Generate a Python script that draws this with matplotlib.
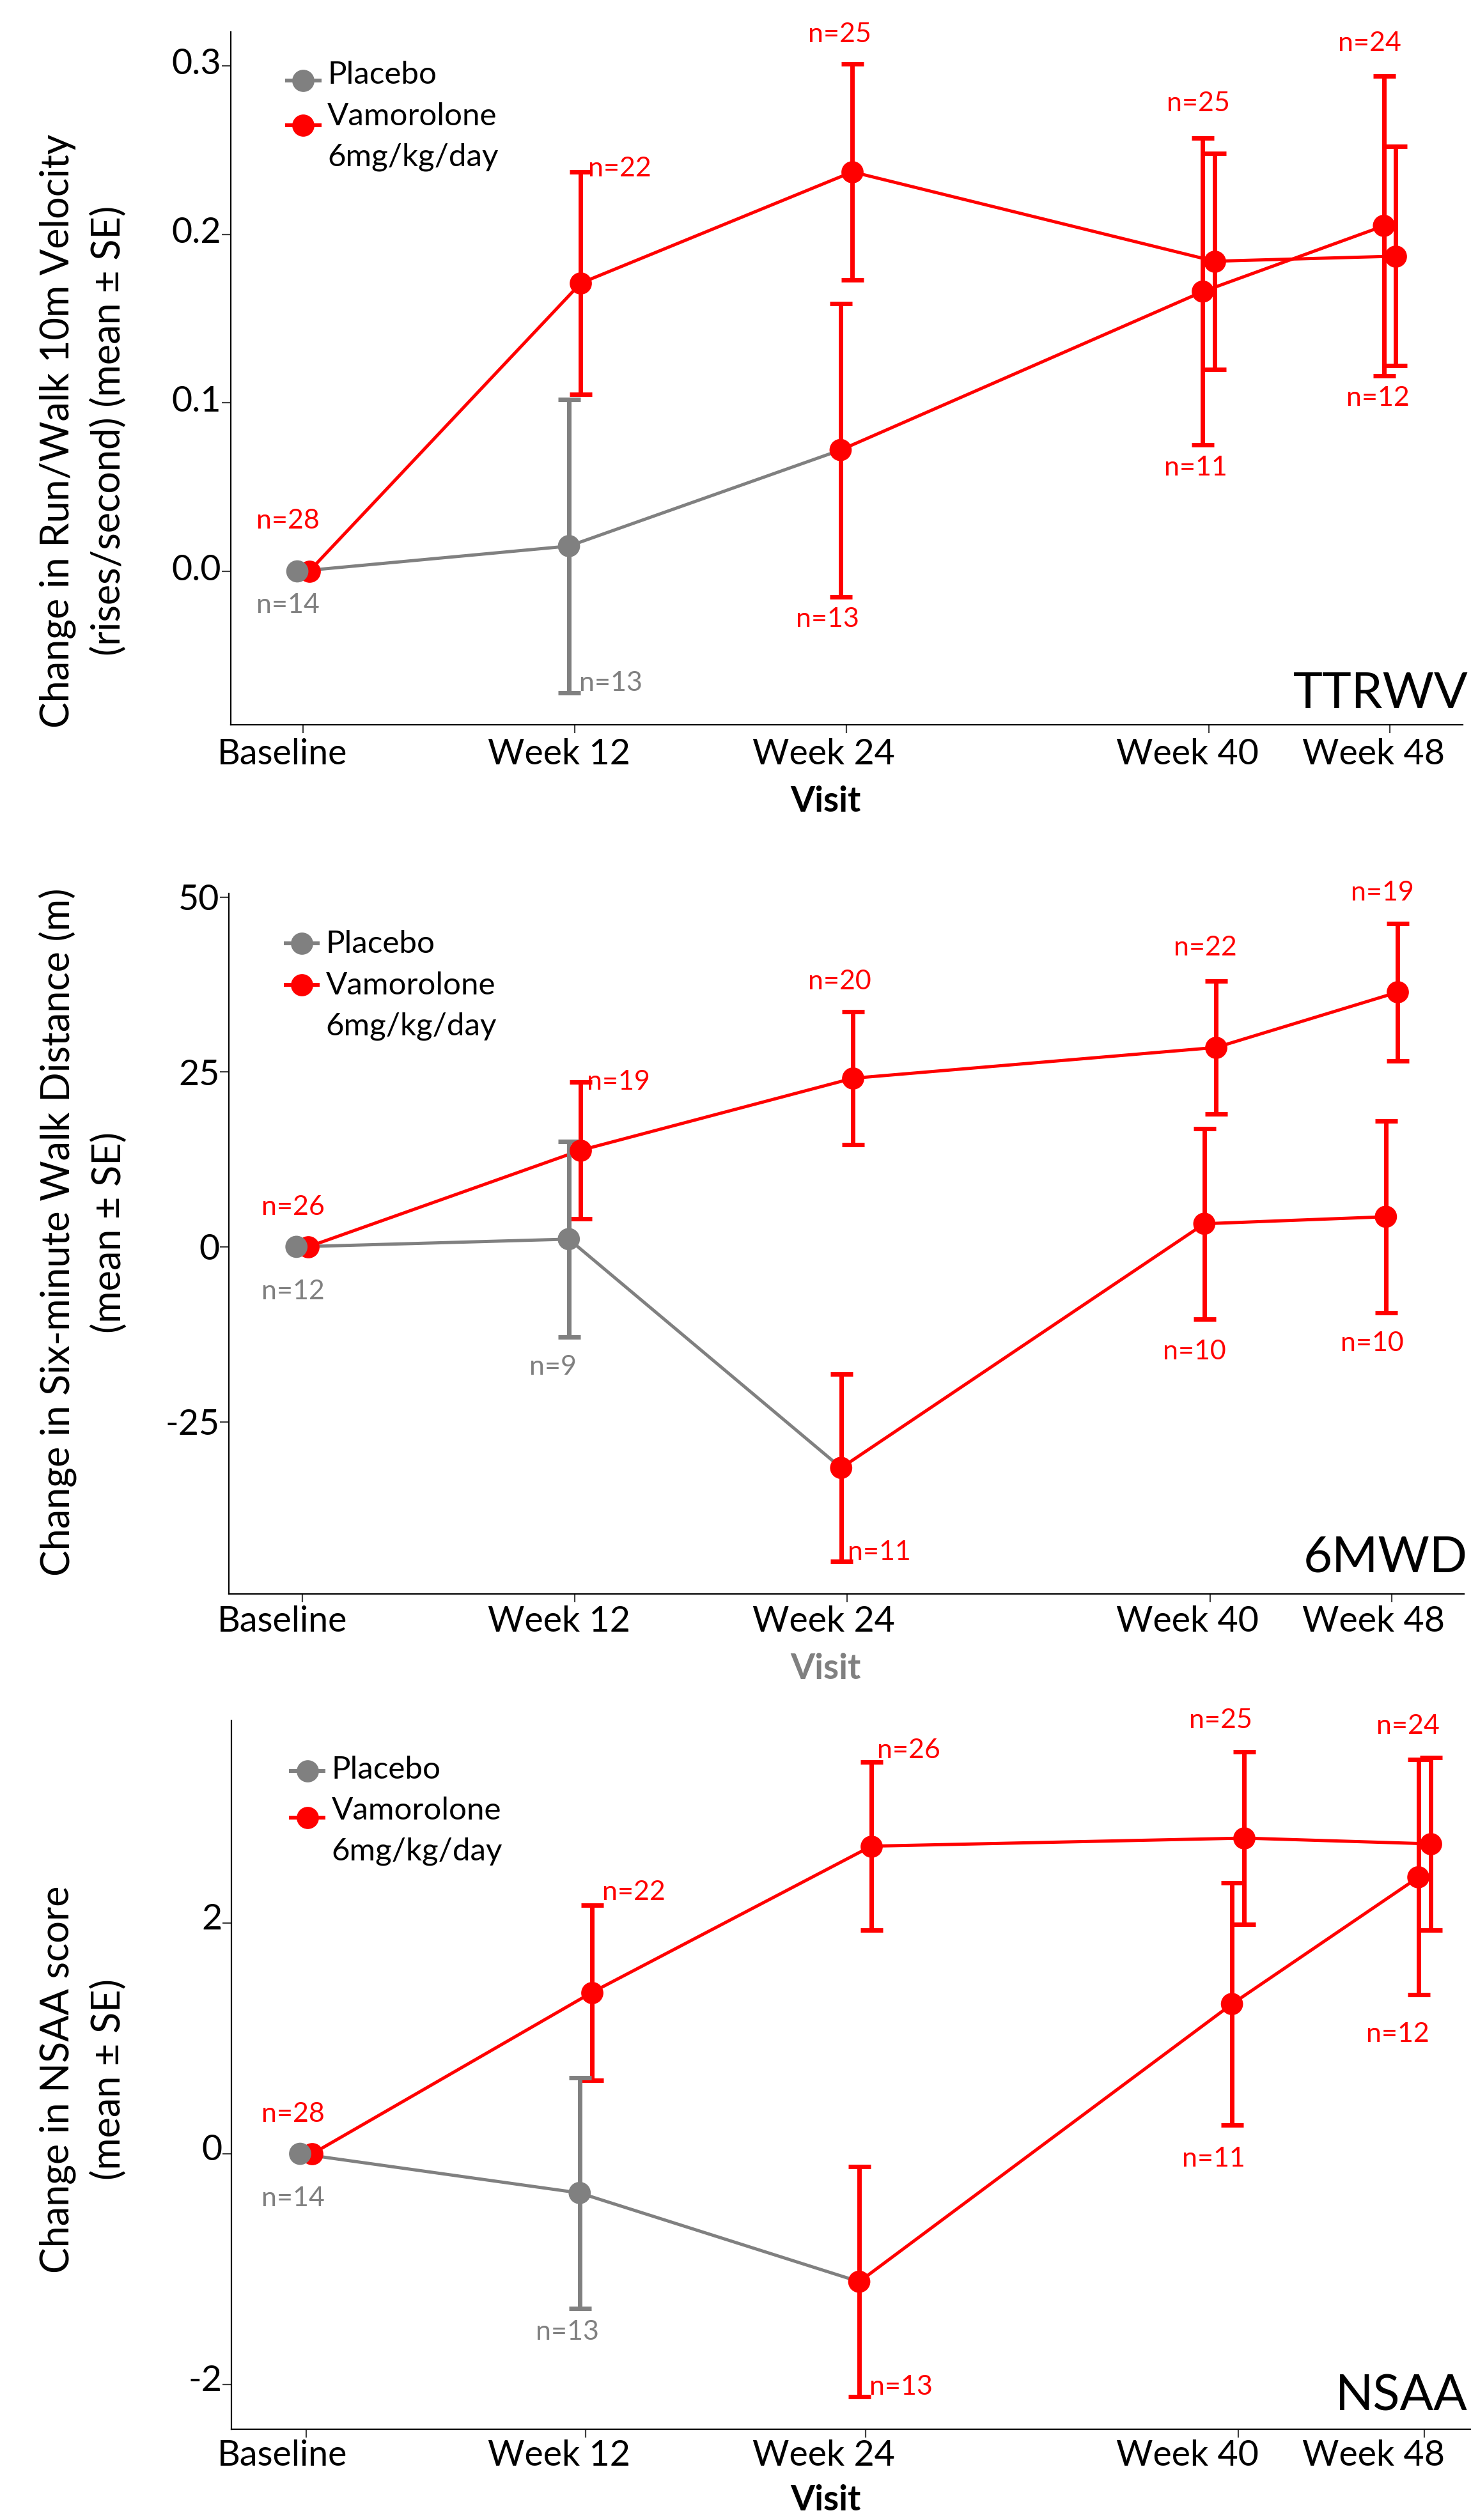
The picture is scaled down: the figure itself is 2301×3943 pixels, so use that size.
"""
Vamorolone vs placebo: change from baseline in TTRWV, 6MWD and NSAA
"""
import numpy as np
import matplotlib
matplotlib.use("Agg")
import matplotlib.pyplot as plt
import matplotlib.transforms as mtransforms
from matplotlib.lines import Line2D
from matplotlib.legend_handler import HandlerLine2D

plt.rcParams['font.family'] = ['Lato', 'DejaVu Sans']
plt.rcParams['axes.unicode_minus'] = False

GRAY = '#808080'
RED = '#ff0000'
W, H, DPI = 2301, 3943, 100

# ---------------- data ----------------
visits = ['Baseline', 'Week 12', 'Week 24', 'Week 40', 'Week 48']
weeks = [0, 12, 24, 40, 48]
# placebo arm crosses over to vamorolone after week 24
pbo_colors = [GRAY, GRAY, RED, RED, RED]

# TTRWV
ttrwv_pbo_mean = [0.0, 0.015, 0.072, 0.166, 0.205]
ttrwv_pbo_se = [0.0, 0.087, 0.087, 0.091, 0.089]
ttrwv_vam_mean = [0.0, 0.171, 0.237, 0.184, 0.187]
ttrwv_vam_se = [0.0, 0.066, 0.064, 0.064, 0.065]
ttrwv_pbo_n = [14, 13, 13, 11, 12]
ttrwv_vam_n = [28, 22, 25, 25, 24]

# 6MWD
mwd_pbo_mean = [0.0, 1.1, -31.6, 3.3, 4.3]
mwd_pbo_se = [0.0, 14.0, 13.4, 13.6, 13.7]
mwd_vam_mean = [0.0, 13.8, 24.1, 28.5, 36.4]
mwd_vam_se = [0.0, 9.75, 9.5, 9.5, 9.8]
mwd_pbo_n = [12, 9, 11, 10, 10]
mwd_vam_n = [26, 19, 20, 22, 19]

# NSAA
nsaa_pbo_mean = [0.0, -0.34, -1.11, 1.30, 2.40]
nsaa_pbo_se = [0.0, 1.0, 1.0, 1.05, 1.02]
nsaa_vam_mean = [0.0, 1.40, 2.67, 2.74, 2.69]
nsaa_vam_se = [0.0, 0.76, 0.73, 0.75, 0.75]
nsaa_pbo_n = [14, 13, 13, 11, 12]
nsaa_vam_n = [28, 22, 26, 25, 24]

# ---------------- style ----------------
DODGE = 0.26
LW = 3.6
ELW = 5.0
CAP = 12.6
MS = 25
TICKFS = 40
NFS = 31
LEGFS = 35.5
YLFS = 44
BIGFS = 56
# tick label centres (px) shared by all panels
XLAB_CX = [441.7, 874.5, 1288, 1857, 2148.6]


class ShiftedLine(HandlerLine2D):
    """legend handle moved vertically by dy points"""
    def __init__(self, dy, **kw):
        super().__init__(**kw)
        self.dy = dy

    def create_artists(self, legend, orig_handle, xdescent, ydescent,
                       width, height, fontsize, trans):
        arts = super().create_artists(legend, orig_handle, xdescent, ydescent,
                                      width, height, fontsize, trans)
        for a in arts:
            a.set_ydata(np.asarray(a.get_ydata(), float) + self.dy)
        return arts


def add_axes_px(fig, left, top, right, bottom):
    return fig.add_axes([left / W, 1 - bottom / H, (right - left) / W, (bottom - top) / H])


def draw_groups(ax, pbo_mean, pbo_se, vam_mean, vam_se):
    x = np.array(weeks, dtype=float)
    xp, xv = x - DODGE, x + DODGE
    pbo_mean, pbo_se = np.asarray(pbo_mean), np.asarray(pbo_se)
    vam_mean, vam_se = np.asarray(vam_mean), np.asarray(vam_se)

    # vamorolone arm
    ax.plot(xv, vam_mean, color=RED, lw=LW, zorder=2)
    ax.errorbar(xv[1:], vam_mean[1:], yerr=vam_se[1:], fmt='none', ecolor=RED,
                elinewidth=ELW, capsize=CAP, capthick=ELW, zorder=2)
    ax.plot(xv, vam_mean, 'o', color=RED, ms=MS, mew=0, zorder=3)

    # placebo arm -> vamorolone after week 24
    for i in range(len(weeks) - 1):
        ax.plot(xp[i:i + 2], pbo_mean[i:i + 2], color=pbo_colors[i], lw=LW, zorder=2)
    for i in range(1, len(weeks)):
        ax.errorbar(xp[i], pbo_mean[i], yerr=pbo_se[i], fmt='none', ecolor=pbo_colors[i],
                    elinewidth=ELW, capsize=CAP, capthick=ELW, zorder=2)
    ax.scatter(xp, pbo_mean, s=MS ** 2, c=pbo_colors, linewidths=0, zorder=4)


def n_labels(ax, means, ses, ns, colors, specs):
    for i, (anchor, dx, dy, ha) in enumerate(specs):
        if anchor == 'mean':
            y = means[i]
        elif anchor == 'top':
            y = means[i] + ses[i]
        else:
            y = means[i] - ses[i]
        ax.annotate(f'n={ns[i]}', xy=(weeks[i], y), xytext=(dx, dy),
                    textcoords='offset pixels', ha=ha, va='center_baseline',
                    color=colors[i], fontsize=NFS, annotation_clip=False)


def style_axes(fig, ax, xlim, ylim, yticks, yticklabels, xpad, ylab_dy):
    ax.set_xlim(*xlim)
    ax.set_ylim(*ylim)
    for s in ['top', 'right']:
        ax.spines[s].set_visible(False)
    for s in ['left', 'bottom']:
        ax.spines[s].set_linewidth(1.6)
        ax.spines[s].set_color('black')
    ax.set_xticks(weeks, visits)
    ax.set_yticks(yticks, yticklabels)
    ax.tick_params(axis='x', length=9, width=1.6, color='#404040', pad=xpad,
                   labelsize=TICKFS, labelcolor='black')
    ax.tick_params(axis='y', length=10, width=1.6, color='#404040', pad=0.5,
                   labelsize=TICKFS, labelcolor='black')
    # tick labels sit slightly left of their ticks in the original
    for lab, wk, cx in zip(ax.get_xticklabels(), weeks, XLAB_CX):
        tick_px = ax.transData.transform((wk, 0))[0]
        off = mtransforms.ScaledTranslation((cx - tick_px) / DPI, 0, fig.dpi_scale_trans)
        lab.set_transform(lab.get_transform() + off)
    for lab in ax.get_yticklabels():
        off = mtransforms.ScaledTranslation(0, ylab_dy / DPI, fig.dpi_scale_trans)
        lab.set_transform(lab.get_transform() + off)


def legend(ax, anchor, dys):
    h_pbo = Line2D([], [], color=GRAY, lw=4.3, marker='o', ms=MS, mew=0)
    h_vam = Line2D([], [], color=RED, lw=4.3, marker='o', ms=MS, mew=0)
    leg = ax.legend([h_pbo, h_vam], ['Placebo', 'Vamorolone\n6mg/kg/day'],
                    loc='upper left', bbox_to_anchor=anchor, frameon=False,
                    fontsize=LEGFS, handlelength=1.03, handletextpad=0.25,
                    labelspacing=0.42, borderpad=0, borderaxespad=0,
                    handler_map={h_pbo: ShiftedLine(dys[0]), h_vam: ShiftedLine(dys[1])})
    leg.get_texts()[1].set_linespacing(1.54)


fig = plt.figure(figsize=(W / DPI, H / DPI), dpi=DPI)
fig.patch.set_facecolor('white')

# ---------------- panel 1: TTRWV ----------------
ax1 = add_axes_px(fig, 360.7, 49.8, 2288, 1134)
style_axes(fig, ax1, (-3.208, 51.22), (-0.091, 0.3201), [0.0, 0.1, 0.2, 0.3],
           ['0.0', '0.1', '0.2', '0.3'], xpad=6.1, ylab_dy=7)
draw_groups(ax1, ttrwv_pbo_mean, ttrwv_pbo_se, ttrwv_vam_mean, ttrwv_vam_se)
n_labels(ax1, ttrwv_pbo_mean, ttrwv_pbo_se, ttrwv_pbo_n, pbo_colors,
         [('mean', -24, -49, 'center'), ('bottom', 7, 18.5, 'left'),
          ('bottom', -29.5, -32, 'center'), ('bottom', -20, -32, 'center'),
          ('bottom', -19, -31, 'center')])
n_labels(ax1, ttrwv_vam_mean, ttrwv_vam_se, ttrwv_vam_n, [RED] * 5,
         [('mean', -23.5, 83, 'center'), ('top', 21, 8, 'left'),
          ('top', -11, 50, 'center'), ('top', -16.5, 81.6, 'center'),
          ('top', -32, 165, 'center')])
legend(ax1, (0.0458, 0.958), (-8.6, 13.3))

# ---------------- panel 2: 6MWD ----------------
ax2 = add_axes_px(fig, 357.9, 1397.8, 2290, 2494)
style_axes(fig, ax2, (-3.24, 51.18), (-49.62, 50.53), [-25, 0, 25, 50],
           ['-25', '0', '25', '50'], xpad=4.2, ylab_dy=0)
draw_groups(ax2, mwd_pbo_mean, mwd_pbo_se, mwd_vam_mean, mwd_vam_se)
n_labels(ax2, mwd_pbo_mean, mwd_pbo_se, mwd_pbo_n, pbo_colors,
         [('mean', -14.6, -66.4, 'center'), ('bottom', -33.6, -43.2, 'center'),
          ('bottom', 1, 18, 'left'), ('bottom', -24.3, -48, 'center'),
          ('bottom', -31, -45, 'center')])
n_labels(ax2, mwd_vam_mean, mwd_vam_se, mwd_vam_n, [RED] * 5,
         [('mean', -14.6, 65.5, 'center'), ('top', 19, 3.3, 'left'),
          ('top', -12, 51, 'center'), ('top', -8, 55, 'center'),
          ('top', -15, 52, 'center')])
legend(ax2, (0.0459, 0.9475), (-1.4, 24.5))

# ---------------- panel 3: NSAA ----------------
ax3 = add_axes_px(fig, 361.6, 2691.6, 2344.7, 3800.9)
style_axes(fig, ax3, (-3.22, 51.2), (-2.39, 3.763), [-2, 0, 2],
           ['-2', '0', '2'], xpad=2.5, ylab_dy=10.5)
draw_groups(ax3, nsaa_pbo_mean, nsaa_pbo_se, nsaa_vam_mean, nsaa_vam_se)
n_labels(ax3, nsaa_pbo_mean, nsaa_pbo_se, nsaa_pbo_n, pbo_colors,
         [('mean', -20.5, -66.8, 'center'), ('bottom', -28.8, -34.3, 'center'),
          ('bottom', 6.3, 18.8, 'left'), ('bottom', -38.5, -49.7, 'center'),
          ('bottom', -41.7, -58, 'center')])
n_labels(ax3, nsaa_vam_mean, nsaa_vam_se, nsaa_vam_n, [RED] * 5,
         [('mean', -20.5, 66, 'center'), ('top', 26.2, 23, 'left'),
          ('top', 18, 21.5, 'left'), ('top', -27.5, 52, 'center'),
          ('top', -25.6, 52, 'center')])
legend(ax3, (0.0473, 0.9504), (-4.3, 16.2))

# ---------------- axis titles and panel tags ----------------
ylabels = [('Change in Run/Walk 10m Velocity\n(rises/second) (mean ± SE)', 674),
           ('Change in Six-minute Walk Distance (m)\n(mean ± SE)', 1928),
           ('Change in NSAA score\n(mean ± SE)', 3253.5)]
for txt, yc in ylabels:
    fig.text(130 / W, 1 - yc / H, txt, rotation=90, ha='center', va='center',
             multialignment='center', linespacing=1.49, fontsize=YLFS)

for yb, col in [(1270.3, 'black'), (2626.7, GRAY), (3927.6, 'black')]:
    fig.text(1291 / W, 1 - yb / H, 'Visit', ha='center', va='baseline',
             fontsize=39.5, fontweight='bold', color=col)

# panel tags: kept just inside the right edge
for txt, yb in [('TTRWV', 1108.3), ('6MWD', 2459.2), ('NSAA', 3771.7)]:
    fig.text(2296 / W, 1 - yb / H, txt, ha='right', va='baseline', fontsize=BIGFS)

fig.savefig('out.png', dpi=DPI, facecolor='white')
